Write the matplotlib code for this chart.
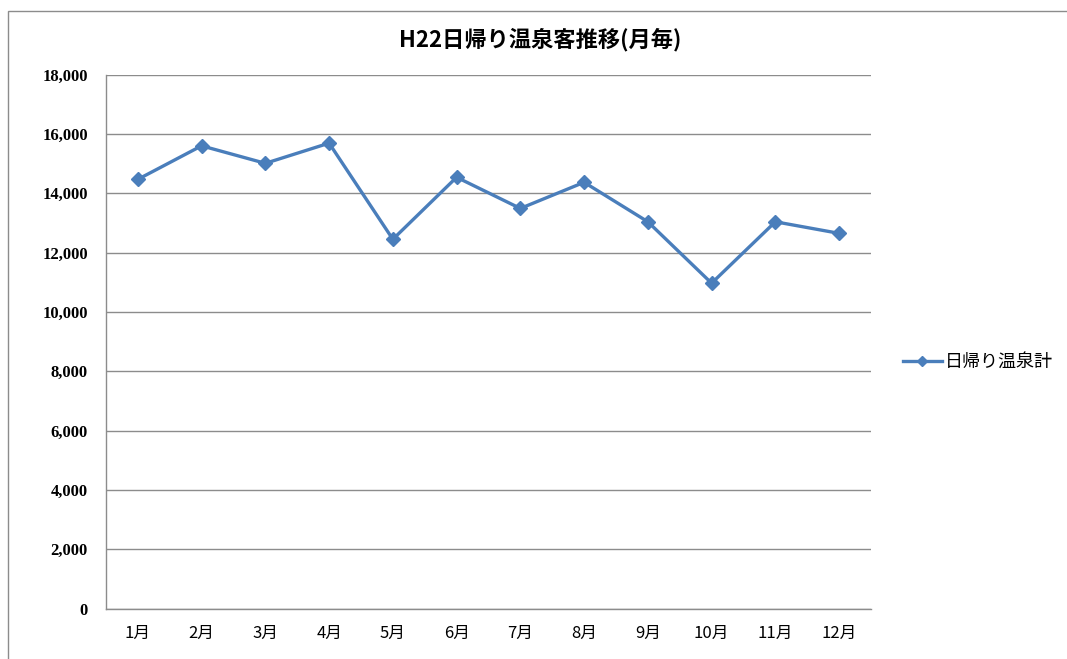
import matplotlib.pyplot as plt
from matplotlib.patches import Rectangle
from matplotlib.ticker import FuncFormatter

months = ["1月", "2月", "3月", "4月", "5月", "6月",
          "7月", "8月", "9月", "10月", "11月", "12月"]
visitors = [14470, 15600, 15010, 15690, 12450, 14540,
            13490, 14370, 13040, 10970, 13040, 12650]
series_name = "日帰り温泉計"
title = "H22日帰り温泉客推移(月毎)"

jp = ["Noto Sans CJK JP", "DejaVu Sans"]
blue = "#4A7EBB"

fig = plt.figure(figsize=(10.67, 6.59), dpi=100)
ax = fig.add_axes([0.0993, 0.0763, 0.7170, 0.8105])

x = list(range(len(months)))
ax.plot(x, visitors, color=blue, linewidth=2.4, marker="D", markersize=7,
        label=series_name)

ax.set_xlim(-0.5, len(months) - 0.5)
ax.set_ylim(0, 18000)
ax.set_yticks(range(0, 18001, 2000))
ax.yaxis.set_major_formatter(FuncFormatter(lambda v, p: f"{int(v):,}"))
ax.grid(axis="y", color="#8c8c8c", linewidth=1.0)
ax.set_axisbelow(True)

ax.set_xticks(x)
ax.set_xticklabels(months, family=jp, fontsize=12)
for lbl in ax.get_yticklabels():
    lbl.set_family("Liberation Serif")
    lbl.set_fontweight("bold")
    lbl.set_fontsize(12)

ax.tick_params(axis="y", length=0, pad=13)
ax.tick_params(axis="x", length=0, pad=12)

for side in ["top", "right"]:
    ax.spines[side].set_visible(False)
for side in ["left", "bottom"]:
    ax.spines[side].set_color("#8c8c8c")
    ax.spines[side].set_linewidth(1.0)

fig.text(0.506, 0.94, title, ha="center", va="center", fontsize=16,
         fontweight="bold", family=jp)

ax.legend(loc="center left", bbox_to_anchor=(1.02, 0.462), frameon=False,
          prop={"family": jp, "size": 13}, handlelength=2.2,
          handletextpad=0.15, markerscale=0.8)

# outer chart frame
fig.patches.append(Rectangle((0.0075, -0.01), 1.2, 0.993,
                             transform=fig.transFigure, fill=False,
                             edgecolor="#8c8c8c", linewidth=1.0))

fig.savefig("out.png", dpi=100)
